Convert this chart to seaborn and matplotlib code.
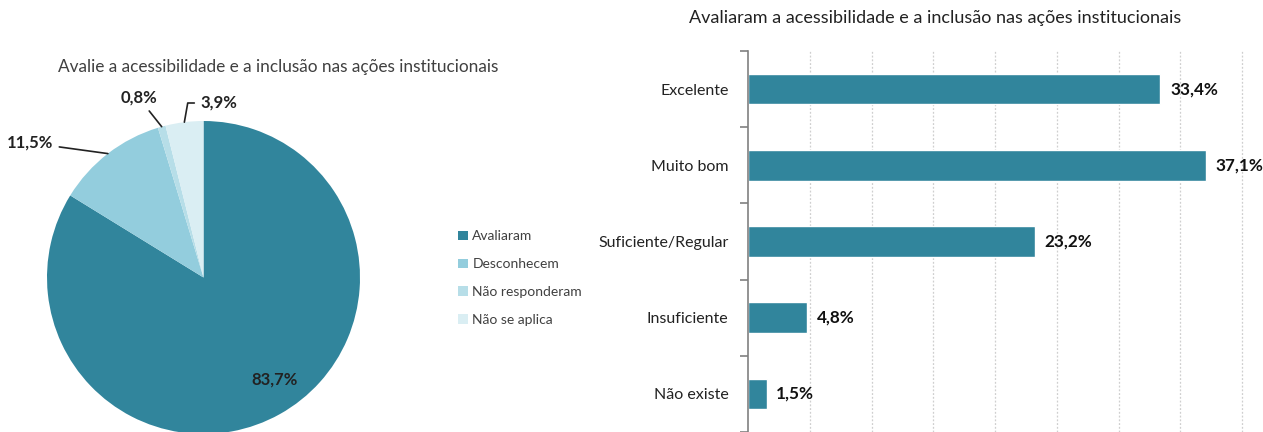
import numpy as np
import pandas as pd
import matplotlib
matplotlib.use("Agg")
import matplotlib.pyplot as plt
from matplotlib.patches import Patch
from matplotlib.ticker import FixedLocator
import seaborn as sns

# ---- data ----
pie_labels = ["Avaliaram", "Desconhecem", "Não responderam", "Não se aplica"]
pie_values = [83.7, 11.5, 0.8, 3.9]
pie_colors = ["#31859C", "#93CDDD", "#B7DEE8", "#DAEEF3"]

bar_categories = ["Excelente", "Muito bom", "Suficiente/Regular", "Insuficiente", "Não existe"]
bar_values = [33.4, 37.1, 23.2, 4.8, 1.5]
bar_color = "#31859C"

pie_title = "Avalie a acessibilidade e a inclusão nas ações institucionais"
bar_title = "Avaliaram a acessibilidade e a inclusão nas ações institucionais"

def fmt(v):
    return f"{v:.1f}%".replace(".", ",")

sns.set_theme(style="white")
plt.rcParams['font.family'] = ['Lato', 'DejaVu Sans']

W, H = 1263, 432
fig = plt.figure(figsize=(W / 100, H / 100), dpi=100)
fig.patch.set_facecolor("white")

# ---- pie ----
ax_pie = fig.add_axes([47 / W, -2 / H, 313 / W, 313 / H])
wedges, _ = ax_pie.pie(pie_values, colors=pie_colors, startangle=90,
                       counterclock=False, wedgeprops=dict(linewidth=0))
ax_pie.set_aspect("equal")
ax_pie.set_xlim(-1, 1)
ax_pie.set_ylim(-1, 1)

# label layout (text position in data units, alignment, leader connection)
label_layout = [
    ((0.457, -0.655), "center", None),
    ((-0.96, 0.86), "right", "arc3,rad=0"),
    ((-0.415, 1.15), "center", "arc3,rad=0"),
    ((-0.02, 1.115), "left", "angle,angleA=0,angleB=80,rad=0"),
]
for w, v, (pos, ha, conn) in zip(wedges, pie_values, label_layout):
    mid = np.deg2rad((w.theta1 + w.theta2) / 2)
    edge = (np.cos(mid), np.sin(mid))
    if conn:
        ax_pie.annotate(fmt(v), xy=edge, xytext=pos, ha=ha, va="center",
                        fontsize=12, fontweight="bold", color="#222222",
                        arrowprops=dict(arrowstyle="-", color="#222222", lw=1.2,
                                        shrinkA=2, shrinkB=0,
                                        connectionstyle=conn),
                        annotation_clip=False)
    else:
        ax_pie.text(pos[0], pos[1], fmt(v), ha=ha, va="center",
                    fontsize=12, fontweight="bold", color="#222222")

fig.text(278 / W, 1 - 67 / H, pie_title, ha="center", va="center",
         fontsize=12.4, color="#404040")

handles = [Patch(facecolor=c, edgecolor="none") for c in pie_colors]
fig.legend(handles, pie_labels, loc="center left",
           bbox_to_anchor=(446 / W, 1 - 278 / H), frameon=False,
           fontsize=10, handlelength=0.65, handleheight=0.65, handletextpad=0.35,
           labelspacing=1.15, labelcolor="#404040")

# ---- bars ----
ax_bar = fig.add_axes([748 / W, 0.0, (W - 748) / W, 1 - 51 / H])
df = pd.DataFrame({"cat": bar_categories, "val": bar_values})
sns.barplot(data=df, x="val", y="cat", orient="h", color=bar_color,
            saturation=1, width=0.4, ax=ax_bar)
ax_bar.set_xlim(0, 41.7)
ax_bar.set_ylim(len(bar_categories) - 0.5, -0.5)
ax_bar.set_xlabel("")
ax_bar.set_ylabel("")
ax_bar.set_xticks(np.arange(5, 45, 5))
ax_bar.set_xticklabels([])
ax_bar.tick_params(axis="x", length=0)
ax_bar.grid(axis="x", color="#cfcfcf", linestyle=(0, (1.5, 1.5)), linewidth=0.9)
ax_bar.grid(axis="y", visible=False)
for s in ["top", "right", "bottom"]:
    ax_bar.spines[s].set_visible(False)
ax_bar.spines["left"].set_color("#808080")
ax_bar.spines["left"].set_linewidth(1.2)
ax_bar.yaxis.set_minor_locator(FixedLocator(np.arange(-0.5, len(bar_categories), 1.0)))
ax_bar.tick_params(axis="y", which="major", length=0, pad=14, labelsize=11.5,
                   labelcolor="#222222")
ax_bar.tick_params(axis="y", which="minor", length=6, width=1.2, color="#808080",
                   direction="out", left=True)
for cont in ax_bar.containers:
    ax_bar.bar_label(cont, labels=[fmt(v) for v in bar_values], padding=7,
                     fontsize=12.3, fontweight="bold", color="#111111")

fig.text(935 / W, 1 - 18 / H, bar_title, ha="center", va="center",
         fontsize=13, color="#222222")

fig.savefig("out.png", dpi=100, facecolor="white")
